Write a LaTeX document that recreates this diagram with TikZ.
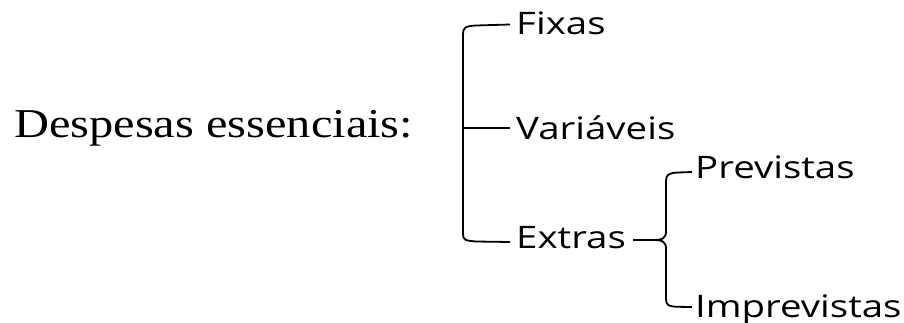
\documentclass[tikz,border=0pt]{standalone}
\usepackage{fontspec}
\setmainfont{Liberation Serif}
\newfontfamily\labelfont{Open Sans}
\begin{document}
\begin{tikzpicture}[x=1pt,y=-1pt,
  lbl/.style={anchor=base west,inner sep=0pt,font=\labelfont\fontsize{31}{36}\selectfont},
  ttl/.style={anchor=base west,inner sep=0pt,font=\fontsize{41}{48}\selectfont},
  conn/.style={line width=1.8pt,black,line join=round}]
\useasboundingbox (0,0) rectangle (904,322);
\node[ttl] (title) at (14,137.5) {\scalebox{1.18}[1]{Despesas essenciais:}};
\node[lbl] (fix) at (516,34) {\scalebox{1.24}[1]{Fixas}};
\node[lbl] (var) at (516,139.5) {\scalebox{1.24}[1]{Variáveis}};
\node[lbl] (ext) at (516,248) {\scalebox{1.24}[1]{Extras}};
\node[lbl] (prev) at (695,178) {\scalebox{1.24}[1]{Previstas}};
\node[lbl] (impr) at (695,317) {\scalebox{1.24}[1]{Imprevistas}};
\coordinate (bt) at (510,24.5);
\coordinate (bm) at (510,128);
\coordinate (bb) at (510,242);
\coordinate (vm) at (463,128);
\coordinate (cs) at (633,240);
\coordinate (ct) at (692,172);
\coordinate (cb) at (692,307);
\draw[conn] (bt) -- (476,25.5) .. controls (465,26) and (463,28) .. (463,34)
  -- (463,234) .. controls (463,240) and (465,240.5) .. (476,241.5) -- (bb);
\draw[conn] (vm) -- (bm);
\draw[conn] (cs) -- (653,240) .. controls (663,240) and (666,238) .. (666,231)
  -- (666,181) .. controls (666,175) and (668,173) .. (678,172.5) -- (ct);
\draw[conn] (653,240) .. controls (663,240) and (666,242) .. (666,249)
  -- (666,299) .. controls (666,305) and (668,306.5) .. (678,306.8) -- (cb);
\end{tikzpicture}
\end{document}
